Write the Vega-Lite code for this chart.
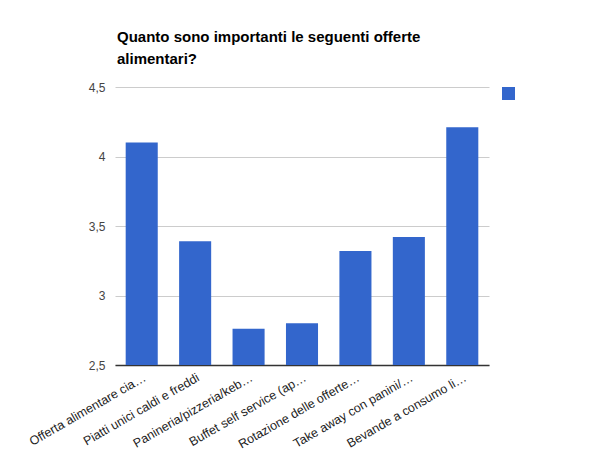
{
  "$schema": "https://vega.github.io/schema/vega-lite/v6.json",
  "autosize": "none",
  "width": 374,
  "height": 278,
  "padding": {"left": 115, "top": 87, "right": 115, "bottom": 87},
  "background": "white",
  "config": {"view": {"stroke": null}},
  "title": {
    "text": ["Quanto sono importanti le seguenti offerte", "alimentari?"],
    "anchor": "start",
    "frame": "group",
    "font": "Liberation Sans",
    "fontSize": 15,
    "fontWeight": "bold",
    "color": "#000000",
    "lineHeight": 22,
    "offset": 14,
    "dx": 2
  },
  "data": {
    "values": [
      {"offerta": "Offerta alimentare cia…", "valore": 4.1, "serie": "s"},
      {"offerta": "Piatti unici caldi e freddi", "valore": 3.39, "serie": "s"},
      {"offerta": "Panineria/pizzeria/keb…", "valore": 2.76, "serie": "s"},
      {"offerta": "Buffet self service (ap…", "valore": 2.8, "serie": "s"},
      {"offerta": "Rotazione delle offerte…", "valore": 3.32, "serie": "s"},
      {"offerta": "Take away con panini/…", "valore": 3.42, "serie": "s"},
      {"offerta": "Bevande a consumo li…", "valore": 4.21, "serie": "s"}
    ]
  },
  "mark": {"type": "bar", "clip": true},
  "encoding": {
    "x": {
      "field": "offerta",
      "type": "nominal",
      "sort": null,
      "scale": {"paddingInner": 0.4, "paddingOuter": 0.2},
      "axis": {
        "title": null,
        "labelAngle": -30,
        "labelFont": "Liberation Sans",
        "labelFontSize": 12.5,
        "labelColor": "#222222",
        "labelLimit": 0,
        "ticks": false,
        "labelPadding": 6,
        "domainColor": "#333333",
        "domainWidth": 1.5
      }
    },
    "y": {
      "field": "valore",
      "type": "quantitative",
      "scale": {"domain": [2.5, 4.5], "zero": false, "nice": false},
      "axis": {
        "title": null,
        "values": [2.5, 3, 3.5, 4, 4.5],
        "labelExpr": "replace(toString(datum.value), '.', ',')",
        "labelFont": "Liberation Sans",
        "labelFontSize": 12,
        "labelColor": "#444444",
        "labelPadding": 10,
        "ticks": false,
        "domain": false,
        "gridColor": "#cccccc",
        "gridWidth": 1
      }
    },
    "color": {
      "field": "serie",
      "type": "nominal",
      "scale": {"range": ["#3366cc"]},
      "legend": {
        "title": null,
        "orient": "none",
        "legendX": 387,
        "legendY": 0,
        "symbolType": "square",
        "symbolSize": 169,
        "symbolStrokeWidth": 0,
        "labelExpr": "''"
      }
    }
  }
}
